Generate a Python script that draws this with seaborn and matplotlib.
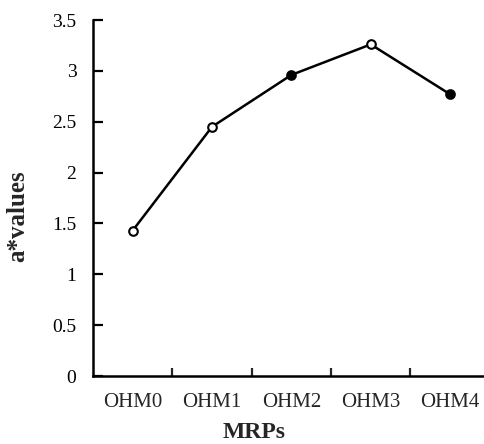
import matplotlib
matplotlib.use("Agg")
import matplotlib.pyplot as plt
import seaborn as sns
import numpy as np
import pandas as pd

categories = ["OHM0", "OHM1", "OHM2", "OHM3", "OHM4"]
a_values = [1.43, 2.45, 2.96, 3.26, 2.77]
filled = [False, False, True, False, True]
y_ticks = [0, 0.5, 1, 1.5, 2, 2.5, 3, 3.5]
y_tick_labels = ["0", "0.5", "1", "1.5", "2", "2.5", "3", "3.5"]

sns.set_style("white")
plt.rcParams["font.family"] = ["Liberation Serif", "DejaVu Serif"]

df = pd.DataFrame({"pos": np.arange(len(categories)), "val": a_values, "filled": filled})

fig = plt.figure(figsize=(4.85, 4.44), dpi=100)
ax = fig.add_axes([93 / 485, 1 - 376 / 444, 392 / 485, 356 / 444])

sns.lineplot(data=df, x="pos", y="val", color="black", linewidth=1.8, ax=ax, zorder=2)
for is_filled, sub in df.groupby("filled"):
    ax.plot(sub["pos"], sub["val"], linestyle="none", marker="o", markersize=6.2,
            markeredgewidth=1.5, markeredgecolor="black",
            markerfacecolor="black" if is_filled else "white", zorder=3, clip_on=False)

ax.set_xlim(-0.5, 4.44)
ax.set_ylim(0, 3.5)
ax.set_yticks(y_ticks)
ax.set_yticklabels(y_tick_labels)
ax.set_xticks(np.arange(len(categories)))
ax.set_xticklabels(categories)
ax.set_xticks(np.arange(len(categories) - 1) + 0.5, minor=True)

ax.tick_params(axis="y", left=True, direction="in", length=7, width=1.6, pad=12,
               labelsize=14, colors="black")
ax.tick_params(axis="x", which="major", bottom=True, length=0, pad=12, labelsize=15)
ax.tick_params(axis="x", which="minor", bottom=True, direction="in", length=6, width=1.6)

for s in ["top", "right"]:
    ax.spines[s].set_visible(False)
for s in ["left", "bottom"]:
    ax.spines[s].set_linewidth(1.8)
    ax.spines[s].set_color("black")

ax.set_xlabel("")
ax.set_ylabel("")
fig.text(18 / 485, 1 - 216 / 444, "a*values", rotation=90, ha="center", va="center",
         fontsize=18, fontweight="bold")
fig.text(254 / 485, 1 - 432 / 444, "MRPs", ha="center", va="center",
         fontsize=17, fontweight="bold")

fig.savefig("out.png", dpi=100)
